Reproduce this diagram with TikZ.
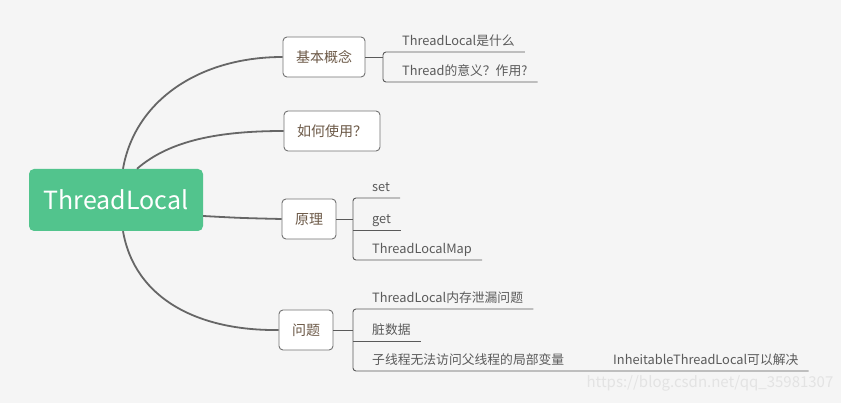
\documentclass[tikz,border=0pt]{standalone}
\usepackage{fontspec}
\setmainfont{Noto Sans CJK SC}
\definecolor{bg}{HTML}{F5F5F5}
\definecolor{mint}{HTML}{52C48D}
\definecolor{wire}{HTML}{666666}
\definecolor{ink}{HTML}{5A5A5A}
\definecolor{umber}{HTML}{6B5846}

\begin{document}
\begin{tikzpicture}[x=1pt,y=-1pt,
root/.style={fill=mint,text=white,rounded corners=5pt,minimum width=174pt,minimum height=62pt,inner sep=0pt,font=\fontsize{25}{30}\selectfont},
topic/.style={draw=gray!90!black,line width=0.9pt,fill=white,text=umber,rounded corners=4pt,minimum height=40pt,inner xsep=13pt,font=\fontsize{14}{17}\selectfont},
leaf/.style={anchor=south west,inner xsep=10pt,inner ysep=3pt,text=ink,text height=9pt,text depth=3pt,font=\fontsize{12.8}{15}\selectfont},
trunk/.style={wire,line width=1.8pt},
twig/.style={ink,line width=0.9pt}]
\fill[bg] (0,0) rectangle (841,403);
\node[root] (tl) at (116,200) {ThreadLocal};
\node[topic] (basic) at (324,57) {基本概念};
\node[topic] (usage) at (332,131) {如何使用？};
\node[topic] (prin) at (309,219) {原理};
\node[topic] (issue) at (306,330) {问题};
% trunk lines
\draw[trunk] ([xshift=7pt]tl.north) .. controls (135,100) and (200,57) .. (basic.west);
\draw[trunk] ([xshift=21pt]tl.north) .. controls (170,140) and (220,131) .. (usage.west);
\draw[trunk] ([yshift=-16pt]tl.east) .. controls (240,218) .. (prin.west);
\draw[trunk] ([xshift=7pt]tl.south) .. controls (135,300) and (200,331) .. (issue.west);
% leaves of basic
\coordinate (bk) at (383,57);
\node[leaf] (b1) at (392,52) {ThreadLocal是什么};
\node[leaf] (b2) at (392,82) {Thread的意义？作用?};
\draw[twig] (basic.east) -- (bk);
\draw[twig,rounded corners=3pt] (b1.south east) -- (b1.south west -| bk) -- (b2.south west -| bk) -- (b2.south east);
% leaves of prin
\coordinate (pk) at (353,219);
\node[leaf] (p1) at (362,198) {set};
\node[leaf] (p2) at (362,230) {get};
\node[leaf] (p3) at (362,260) {ThreadLocalMap};
\draw[twig] (prin.east) -- (pk);
\draw[twig,rounded corners=3pt] (p1.south east) -- (p1.south west -| pk) -- (p3.south west -| pk) -- (p3.south east);
\draw[twig] (p2.south west -| pk) -- (p2.south east);
% leaves of issue
\coordinate (ik) at (353,330);
\node[leaf] (i1) at (362,309) {ThreadLocal内存泄漏问题};
\node[leaf] (i2) at (362,341) {脏数据};
\node[leaf] (i3) at (362,371) {子线程无法访问父线程的局部变量};
\node[leaf] (i4) at (603,371) {InheitableThreadLocal可以解决};
\draw[twig] (issue.east) -- (ik);
\draw[twig,rounded corners=3pt] (i1.south east) -- (i1.south west -| ik) -- (i3.south west -| ik) -- (i4.south east);
\draw[twig] (i2.south west -| ik) -- (i2.south east);
\node[text=gray!22,font=\fontsize{15}{18}\selectfont] (wm) at (710,383) {https://blog.csdn.net/qq\_35981307};
\end{tikzpicture}
\end{document}
